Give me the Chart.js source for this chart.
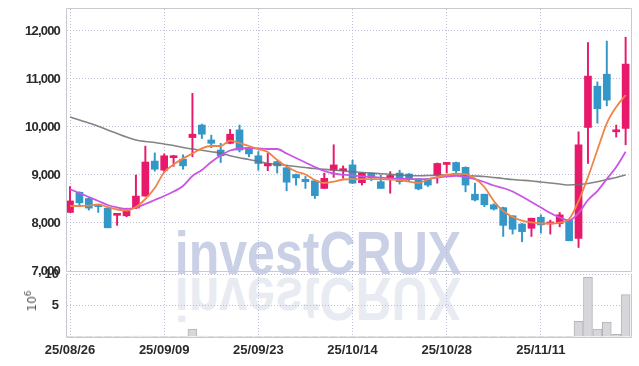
<!DOCTYPE html>
<html><head><meta charset="utf-8">
<script src="https://cdn.jsdelivr.net/npm/chart.js@4.4.1/dist/chart.umd.min.js"></script>
<style>
html,body{margin:0;padding:0;background:#fff;width:639px;height:366px;overflow:hidden;}
body{position:relative;}
.wm{position:absolute;left:118px;width:400px;text-align:center;top:223px;font:bold 61px 'Liberation Sans',Arial,sans-serif;line-height:61px;white-space:nowrap;}
#wm1{color:#cad0e5;transform:scaleX(0.82);}
#wm2{color:#e9ebf3;transform-origin:50% 53px;transform:scale(0.82,-1);}
canvas{position:absolute;left:0;}
#pc{top:0;}
#vc{top:262px;}
#unit{position:absolute;left:31px;top:301px;transform:translate(-50%,-50%) rotate(-90deg);font:12px 'DejaVu Sans',sans-serif;color:#555;white-space:nowrap;}
#unit sup{font-size:9px;}
</style></head>
<body>
<div class="wm" id="wm1">investCRUX</div>
<div class="wm" id="wm2">investCRUX</div>
<canvas id="pc" width="639" height="285"></canvas>
<canvas id="vc" width="639" height="104"></canvas>
<div id="unit">10<sup>6</sup></div>
<script>
const dates = ['25/08/26','25/08/27','25/08/28','25/08/29','25/09/01','25/09/02','25/09/03','25/09/04','25/09/05','25/09/08',
'25/09/09','25/09/10','25/09/11','25/09/12','25/09/15','25/09/16','25/09/17','25/09/18','25/09/19','25/09/22',
'25/09/23','25/09/24','25/09/25','25/09/26','25/09/29','25/09/30','25/10/01','25/10/02','25/10/10','25/10/13',
'25/10/14','25/10/15','25/10/16','25/10/17','25/10/20','25/10/21','25/10/22','25/10/23','25/10/24','25/10/27',
'25/10/28','25/10/29','25/10/30','25/10/31','25/11/03','25/11/04','25/11/05','25/11/06','25/11/07','25/11/10',
'25/11/11','25/11/12','25/11/13','25/11/14','25/11/17','25/11/18','25/11/19','25/11/20','25/11/21','25/11/24'];
const opens  = [8220,8640,8510,8360,8310,8160,8150,8310,8560,9290, 9100,9360,9330,9780,10040,9730,9520,9660,9940,9560,
 9400,9190,9280,9150,9010,8910,8880,8720,9100,9090, 9210,8840,9040,8860,8930,9040,9020,8920,8920,9000,
 9220,9260,9160,8600,8600,8380,8320,8150,7980,7890, 8120,7980,7990,8060,7680,9990,10850,11100,9900,9970];
const highs  = [8760,8650,8530,8370,8320,8200,8310,9000,9600,9460, 9440,9410,9420,10700,10060,9830,9660,9950,10040,9560,
 9490,9450,9290,9210,9020,8970,8880,9040,9630,9190, 9310,9050,9040,9000,9070,9100,9030,8920,8930,9250,
 9260,9270,9170,8830,8600,8400,8330,8150,7990,8100, 8170,8060,8220,8080,9900,11760,10940,11790,10040,11870];
const lows   = [8220,8340,8270,8220,7900,7950,8130,8300,8560,9080, 9060,9180,9120,9380,9760,9570,9260,9650,9480,9380,
 9100,9090,9040,8670,8790,8720,8510,8720,8950,8930, 8820,8790,8880,8720,8620,8810,8860,8690,8760,8830,
 9040,9040,8650,8460,8340,8270,7720,7770,7610,7720, 7790,7770,7920,7630,7490,9240,10080,10440,9790,9630];
const closes = [8460,8420,8310,8340,7900,8190,8250,8560,9270,9120, 9400,9400,9190,9850,9850,9660,9400,9850,9520,9440,
 9240,9240,9190,8850,8940,8860,8570,8930,9210,9120, 8830,9040,8940,8720,8990,8860,8910,8710,8790,9240,
 9260,9090,8790,8480,8380,8290,7950,7870,7820,8100, 7960,8010,8170,7630,9630,11060,10380,10560,9920,11310];
const ma5   = [8354,8354,8364,8385,8333,8281,8260,8333,8500,8729, 9056,9219,9343,9448,9556,9604,9604,9718,9666,9604,
 9541,9479,9312,9177,9073,9010,8895,8833,8860,8906, 8916,8916,8916,8910,8906,8895,8864,8833,8906,8958,
 9000,9027,9020,8927,8750,8458,8250,8125,8048,8014, 7990,7990,8010,8083,8458,8958,9520,10076,10416,10666];
const ma20  = [8702,8625,8541,8458,8375,8323,8291,8323,8396,8479, 8562,8656,8770,8979,9104,9270,9406,9510,9552,9562,
 9552,9541,9541,9448,9354,9260,9166,9083,9031,9006, 8990,8973,8958,8944,8931,8923,8916,8912,8916,8948,
 8968,8983,8958,8916,8854,8781,8729,8656,8552,8437, 8323,8208,8114,8052,8208,8479,8666,8916,9166,9485];
const ma120 = [10208,10146,10083,10016,9937,9864,9791,9729,9697,9677, 9646,9614,9573,9541,9514,9485,9458,9402,9360,9323,
 9281,9243,9218,9197,9177,9156,9135,9118,9104,9083, 9069,9052,9042,9027,9014,9000,8990,8983,8990,8994,
 9000,9000,8990,8979,8968,8948,8927,8906,8891,8875, 8854,8833,8812,8791,8802,8823,8860,8906,8948,9000];
const volumes = [0.02,0.02,0.02,0.02,0.02,0.02,0.02,0.15,0.15,0.02, 0.02,0.02,0.02,1.25,0.15,0.02,0.02,0.15,0.02,0.02,
 0.02,0.02,0.02,0.02,0.02,0.02,0.02,0.02,0.02,0.02, 0.02,0.02,0.02,0.02,0.02,0.02,0.02,0.02,0.02,0.02,
 0.02,0.02,0.02,0.02,0.02,0.02,0.02,0.02,0.02,0.02, 0.02,0.02,0.02,0.02,2.47,9.47,1.24,2.37,0.43,6.73];
const priceTicks = [7000,8000,9000,10000,11000,12000];
const volTicks = [0,5,10];
const labelIdx = [0,10,20,30,40,50];

const RED = '#e8196b', BLUE = '#3397c8';
const GRID = 'rgba(175,178,210,0.85)';
const FRAME = '#c9c9cf';
const TICKFONT = {family:"'Liberation Sans',Arial,sans-serif", size:13, weight:'bold'};
const col = (i) => closes[i] >= opens[i] ? RED : BLUE;
const idx = dates.map((d,i)=>i);

const framePlugin = {
  id:'frame',
  beforeDraw(chart, args, opts){ chart.ctx.letterSpacing = opts.ls || '0px'; },
  afterDraw(chart, args, opts){
    const {ctx, chartArea:a} = chart;
    ctx.save(); ctx.strokeStyle = FRAME; ctx.lineWidth = 1;
    ctx.beginPath();
    const l=Math.round(a.left)-0.5, r=Math.round(a.right)+0.5, t=Math.round(a.top)-0.5, b=Math.round(a.bottom)+0.5;
    if (opts.top) { ctx.moveTo(l,t); ctx.lineTo(r,t); }
    ctx.moveTo(l,t); ctx.lineTo(l,b); ctx.lineTo(r,b); ctx.lineTo(r,t);
    ctx.stroke(); ctx.restore();
  }
};
const zeroPad = s => { s.paddingTop = 0; s.paddingBottom = 0; s.paddingLeft = 0; s.paddingRight = 0; };

const xScale = (showTicks, h) => ({
  type:'linear', min:-0.32, max:59.57, offset:false, bounds:'data',
  afterBuildTicks: s => { s.ticks = labelIdx.map(v=>({value:v})); },
  afterFit: s => { s.height = h; zeroPad(s); },
  grid:{color:GRID, lineWidth:1, drawTicks:false, offset:false},
  border:{display:false, dash:[1,2]},
  ticks:{display:showTicks, padding:6, color:'#2a2a2a', font:TICKFONT, maxRotation:0, autoSkip:false,
         callback: v => dates[v]}
});

new Chart(document.getElementById('pc'), {
  type:'bar',
  data:{
    datasets:[
      {type:'line', label:'MA5', data: idx.map(i=>({x:i,y:ma5[i]})), borderColor:'#f08348', borderWidth:1.8, pointRadius:0, cubicInterpolationMode:'monotone', order:0},
      {type:'line', label:'MA20', data: idx.map(i=>({x:i,y:ma20[i]})), borderColor:'#c955e6', borderWidth:1.8, pointRadius:0, cubicInterpolationMode:'monotone', order:0},
      {type:'line', label:'MA120', data: idx.map(i=>({x:i,y:ma120[i]})), borderColor:'rgba(110,110,110,0.85)', borderWidth:1.6, pointRadius:0, cubicInterpolationMode:'monotone', order:0},
      {type:'bar', label:'body', data: idx.map(i=>({x:i,y:[opens[i],closes[i]]})), backgroundColor: c=>col(c.dataIndex), barThickness:7, minBarLength:2, grouped:false, order:1},
      {type:'bar', label:'wick', data: idx.map(i=>({x:i,y:[lows[i],highs[i]]})), backgroundColor: c=>col(c.dataIndex), barThickness:1.3, grouped:false, order:2}
    ]
  },
  options:{
    responsive:false, animation:false, devicePixelRatio:1,
    layout:{padding:{left:0,right:8,top:9,bottom:14}},
    plugins:{legend:{display:false}, tooltip:{enabled:false}, frame:{top:true, ls:'-0.8px'}},
    scales:{
      x: xScale(false, 0),
      y:{ type:'linear', min:7000, max:12458,
        afterBuildTicks: s => { s.ticks = priceTicks.map(v=>({value:v})); },
        afterFit: s => { s.width = 67; zeroPad(s); },
        grid:{color:GRID, drawTicks:false}, border:{display:false, dash:[1,2]},
        ticks:{padding:7, color:'#2a2a2a', font:TICKFONT, callback: v => v.toLocaleString('en-US')}
      }
    }
  },
  plugins:[framePlugin]
});

new Chart(document.getElementById('vc'), {
  type:'bar',
  data:{
    datasets:[
      {type:'bar', label:'Volume', data: idx.map(i=>({x:i,y:volumes[i]})), backgroundColor:'rgba(214,214,219,1)', borderColor:'rgba(180,180,186,1)', borderWidth:1, barThickness:9, grouped:false}
    ]
  },
  options:{
    responsive:false, animation:false, devicePixelRatio:1,
    layout:{padding:{left:0,right:8,top:12,bottom:0}},
    plugins:{legend:{display:false}, tooltip:{enabled:false}, frame:{top:false, ls:'0px'}},
    scales:{
      x: xScale(true, 29),
      y:{ type:'linear', min:0, max:10,
        afterBuildTicks: s => { s.ticks = volTicks.map(v=>({value:v})); },
        afterFit: s => { s.width = 67; zeroPad(s); },
        grid:{color:GRID, drawTicks:false}, border:{display:false, dash:[1,2]},
        ticks:{padding:8, color:'#2a2a2a', font:TICKFONT, callback: v => v === 0 ? '' : String(v)}
      }
    }
  },
  plugins:[framePlugin]
});
</script>
</body></html>
